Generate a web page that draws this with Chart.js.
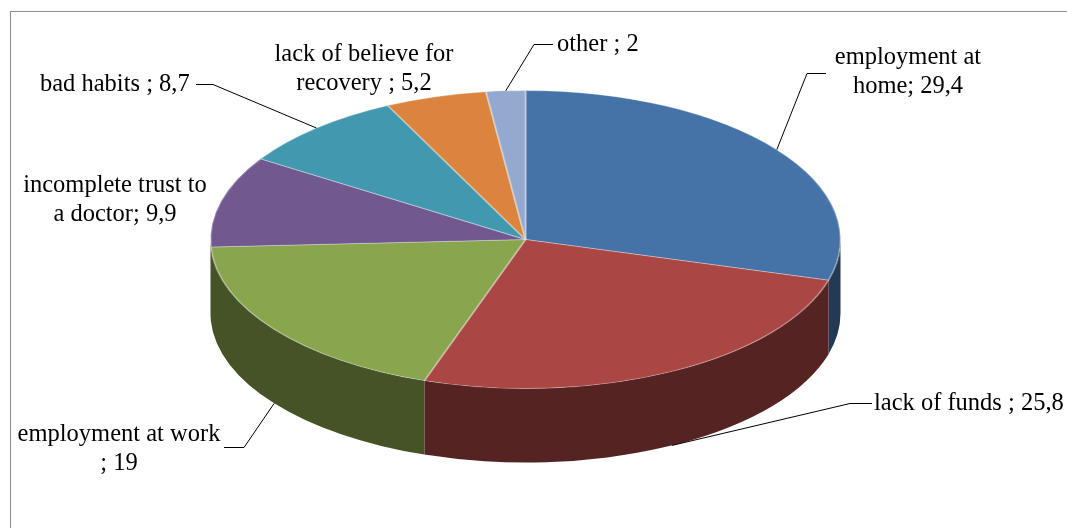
<!DOCTYPE html>
<html lang="en">
<head>
  <meta charset="UTF-8" />
  <title>Reasons - 3D pie</title>
  <script src="https://cdn.jsdelivr.net/npm/chart.js"></script>
  <style>
    html, body { margin: 0; padding: 0; background: #fff; }
    body { width: 1067px; height: 528px; overflow: hidden; position: relative; }
    /* grey chart frame, runs off the right and bottom edges like the source */
    .frame {
      position: absolute; left: 10px; top: 11px;
      width: 1100px; height: 600px;
      border: 1px solid #8c8c8c;
    }
    .fontprobe {
      position: absolute; left: -2000px; top: 0;
      font: 24.5px "Liberation Serif", "Times New Roman", serif;
    }
    #pieChart { position: absolute; left: 0; top: 0; }
  </style>
</head>
<body>
  <div class="frame"></div>
  <span class="fontprobe">employment at home</span>
  <canvas id="pieChart" width="1067" height="528"></canvas>

  <script>
    // ---- data ----
    const categories = [
      'employment at home', 'lack of funds', 'employment at work',
      'incomplete trust to a doctor', 'bad habits',
      'lack of believe for recovery', 'other'
    ];
    const values = [29.4, 25.8, 19, 9.9, 8.7, 5.2, 2];
    const labelLines = [
      ['employment at', 'home; 29,4'],
      ['lack of funds ; 25,8'],
      ['employment at work', '; 19'],
      ['incomplete trust to', 'a doctor; 9,9'],
      ['bad habits ; 8,7'],
      ['lack of believe for', 'recovery ; 5,2'],
      ['other ; 2']
    ];
    const colors = ['#4572A7', '#AA4643', '#89A54E', '#71588F', '#4198AF', '#DB843D', '#93A9CF'];

    // ---- layout ----
    const RX = 315;      // horizontal radius of the tilted pie
    const DEPTH = 74;    // thickness of the side wall
    const LINE_H = 29;
    const FONT = '24.5px "Liberation Serif", "Times New Roman", "DejaVu Serif", serif';
    const labelPos = [
      { x: 908, y: 58,  align: 'center', elbow: [[826, 73], [807, 73]] },
      { x: 874, y: 404, align: 'left',   elbow: [[872, 403], [850, 403]] },
      { x: 119, y: 435, align: 'center', elbow: [[224, 447], [244, 447]] },
      { x: 115, y: 186, align: 'center', elbow: null },
      { x: 40,  y: 85,  align: 'left',   elbow: [[196, 84], [213, 84]] },
      { x: 364, y: 55,  align: 'center', elbow: null },
      { x: 557, y: 45,  align: 'left',   elbow: [[553, 44], [534, 44]] }
    ];

    function shade(hex, f) {
      const n = parseInt(hex.slice(1), 16);
      const r = Math.round(((n >> 16) & 255) * f);
      const g = Math.round(((n >> 8) & 255) * f);
      const b = Math.round((n & 255) * f);
      return `rgb(${r},${g},${b})`;
    }

    // squash the pie into an ellipse and extrude the front wall
    const pie3d = {
      id: 'pie3d',
      beforeDatasetsDraw(chart) {
        const ctx = chart.ctx;
        const arcs = chart.getDatasetMeta(0).data;
        const { x, y, outerRadius: r } = arcs[0];
        const sx = RX / r;

        ctx.save();
        ctx.translate(x, y);
        ctx.scale(sx, 1);
        arcs.forEach((arc, i) => {
          const lo = Math.max(arc.startAngle, 0);
          const hi = Math.min(arc.endAngle, Math.PI);
          if (lo >= hi) return;
          ctx.beginPath();
          ctx.arc(0, 0, r, lo, hi);
          ctx.lineTo(r * Math.cos(hi), r * Math.sin(hi) + DEPTH);
          ctx.arc(0, DEPTH, r, hi, lo, true);
          ctx.closePath();
          ctx.fillStyle = shade(colors[i], 0.5);
          ctx.fill();
        });
        ctx.restore();

        // top face: let Chart.js draw the arcs through a horizontal stretch
        ctx.save();
        ctx.translate(x, y);
        ctx.scale(sx, 1);
        ctx.translate(-x, -y);
      },
      afterDatasetsDraw(chart) {
        const ctx = chart.ctx;
        ctx.restore();

        const arcs = chart.getDatasetMeta(0).data;
        ctx.save();
        ctx.font = FONT;
        ctx.fillStyle = '#000';
        ctx.strokeStyle = '#000';
        ctx.lineWidth = 1;
        ctx.textBaseline = 'middle';

        arcs.forEach((arc, i) => {
          const pos = labelPos[i];
          ctx.textAlign = pos.align;
          labelLines[i].forEach((line, k) => {
            ctx.fillText(line, pos.x, pos.y + k * LINE_H);
          });
          if (!pos.elbow) return;
          const mid = (arc.startAngle + arc.endAngle) / 2;
          const px = arc.x + RX * Math.cos(mid);
          const py = arc.y + arc.outerRadius * Math.sin(mid) + (Math.sin(mid) > 0 ? DEPTH : 0);
          ctx.beginPath();
          ctx.moveTo(pos.elbow[0][0], pos.elbow[0][1] + 0.5);
          ctx.lineTo(pos.elbow[1][0], pos.elbow[1][1] + 0.5);
          ctx.lineTo(px, py);
          ctx.stroke();
        });
        ctx.restore();
      }
    };

    function drawChart() {
      new Chart(document.getElementById('pieChart'), {
        type: 'pie',
        data: {
          labels: categories,
          datasets: [{
            data: values,
            backgroundColor: colors,
            borderColor: 'rgba(255,255,255,0.3)',
            borderWidth: 1,
            clip: false
          }]
        },
        options: {
          responsive: false,
          animation: false,
          events: [],
          layout: { padding: { left: 376, right: 392, top: 90, bottom: 139 } },
          plugins: {
            legend: { display: false },
            tooltip: { enabled: false }
          }
        },
        plugins: [pie3d]
      });
    }

    if (document.fonts && document.fonts.load) {
      document.fonts.load(FONT, 'employment').then(drawChart, drawChart);
    } else {
      drawChart();
    }
  </script>
</body>
</html>
